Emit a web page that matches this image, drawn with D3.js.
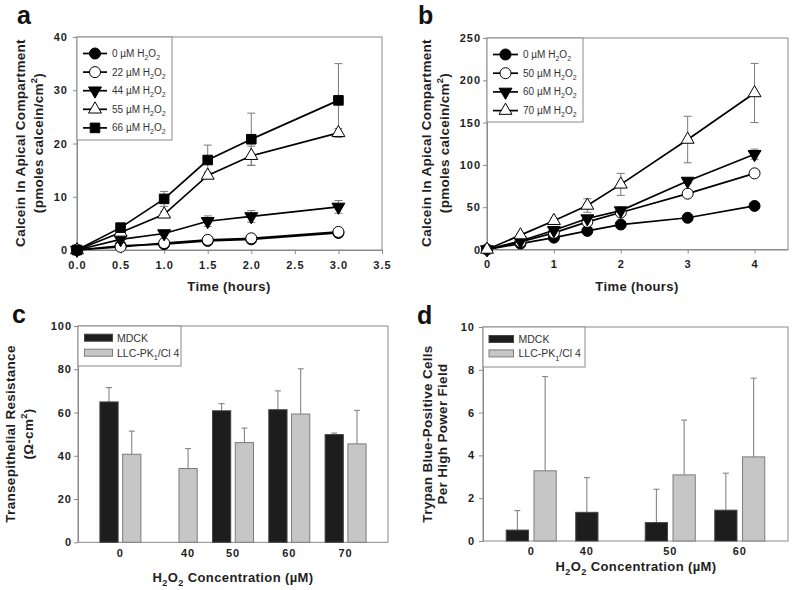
<!DOCTYPE html>
<html>
<head>
<meta charset="utf-8">
<script src="https://cdn.jsdelivr.net/npm/d3@7"></script>
<style>
  body { margin: 0; background: #fff; }
  text { font-family: "Liberation Sans", Arial, sans-serif; }
</style>
</head>
<body>
<svg id="fig" width="800" height="590"></svg>
<script>
// ---- panel a: calcein, MDCK-like time course
const aTimes = [0, 0.5, 1, 1.5, 2, 3];
const aConc = ["0", "22", "44", "55", "66"];
const aMeans = [
  [0, 0.8, 1.1, 1.7, 2.0, 3.2],
  [0, 0.6, 1.3, 1.9, 2.2, 3.4],
  [0, 2.0, 3.1, 5.4, 6.3, 8.1],
  [0, 3.3, 6.7, 14.0, 17.7, 22.0],
  [0, 4.2, 9.6, 16.9, 20.8, 28.1]
];
const aErrs = [
  [0, 0, 0, 0, 0, 0],
  [0, 0, 0, 0, 0, 0],
  [0, 0.3, 0.3, 1.0, 1.1, 1.2],
  [0, 0.4, 0.5, 0.6, 1.8, 0.8],
  [0, 0.4, 1.4, 2.8, 4.9, 6.9]
];
const aXTicks = [0, 0.5, 1, 1.5, 2, 2.5, 3, 3.5];
const aYTicks = [0, 10, 20, 30, 40];

// ---- panel b
const bTimes = [0, 0.5, 1, 1.5, 2, 3, 4];
const bConc = ["0", "50", "60", "70"];
const bMeans = [
  [0, 7, 14, 22, 29.5, 37.5, 51.5],
  [0, 9, 19.6, 32.7, 43.7, 66, 90],
  [0, 10, 22.8, 36.6, 46, 81, 112.6],
  [0, 17, 34, 52, 77, 130, 185]
];
const bErrs = [
  [0, 0.5, 1, 1, 1, 1.5, 2],
  [0, 0.5, 1, 1.5, 1.5, 2, 2.5],
  [0, 0.5, 1, 1.5, 2, 3, 6],
  [0, 2, 3, 8, 13, 27.5, 35]
];
const bXTicks = [0, 1, 2, 3, 4];
const bYTicks = [0, 50, 100, 150, 200, 250];

// ---- panel c: transepithelial resistance
const cConc = ["0", "40", "50", "60", "70"];
const cMDCK = [64.9, null, 60.8, 61.3, 49.8];
const cMDCKErr = [6.6, null, 3.3, 8.7, 0.7];
const cLLC = [40.7, 34.1, 46.1, 59.3, 45.5];
const cLLCErr = [10.7, 9.2, 6.7, 20.9, 15.5];
const cYTicks = [0, 20, 40, 60, 80, 100];

// ---- panel d: trypan blue positive cells
const dConc = ["0", "40", "50", "60"];
const dMDCK = [0.51, 1.34, 0.86, 1.44];
const dMDCKErr = [0.91, 1.62, 1.56, 1.73];
const dLLC = [3.28, null, 3.09, 3.93];
const dLLCErr = [4.40, null, 2.56, 3.68];
const dYTicks = [0, 2, 4, 6, 8, 10];

const svg = d3.select("#fig");
const frameColor = "#8a8a8a";
const errColor = "#7a7a7a";
const textColor = "#1e1e1e";

// text with sub/superscripts: parts are strings or [string, "sub"|"sup"]
function rich(text, parts, size) {
  let cur = 0;
  parts.forEach(function(p) {
    const s = typeof p === "string" ? p : p[0];
    const mode = typeof p === "string" ? "" : p[1];
    const off = mode === "sub" ? size * 0.3 : mode === "sup" ? -size * 0.45 : 0;
    text.append("tspan")
      .attr("dy", off - cur)
      .attr("font-size", mode ? size * 0.7 : size)
      .text(s);
    cur = off;
  });
  return text;
}

function panelLetter(letter, x, y) {
  svg.append("text").attr("x", x).attr("y", y)
    .attr("font-size", 25).attr("font-weight", "bold").attr("fill", "#111")
    .text(letter);
}

function yTitle(lines, x, y, size) {
  lines.forEach(function(parts, i) {
    const t = svg.append("text")
      .attr("transform", "translate(" + x[i] + "," + y + ") rotate(-90)")
      .attr("text-anchor", "middle")
      .attr("font-weight", "bold").attr("font-size", size)
      .attr("letter-spacing", 0.3)
      .attr("fill", textColor);
    rich(t, parts, size);
  });
}

function xTitle(parts, x, y) {
  const t = svg.append("text").attr("x", x).attr("y", y)
    .attr("text-anchor", "middle").attr("font-weight", "bold")
    .attr("font-size", 13).attr("letter-spacing", 0.4).attr("fill", textColor);
  rich(t, parts, 13);
}

function styleAxis(g) {
  g.selectAll(".domain").attr("stroke", frameColor);
  g.selectAll(".tick line").attr("stroke", frameColor);
  g.selectAll(".tick text")
    .attr("font-family", "Liberation Sans, Arial, sans-serif")
    .attr("font-size", 11).attr("font-weight", "bold")
    .attr("letter-spacing", 1).attr("fill", textColor);
}

const markers = {
  dot:    { type: d3.symbolCircle, size: 95, fill: "#000", rot: 0 },
  ring:   { type: d3.symbolCircle, size: 95, fill: "#fff", rot: 0 },
  down:   { type: d3.symbolTriangle, size: 72, fill: "#000", rot: 180 },
  up:     { type: d3.symbolTriangle, size: 72, fill: "#fff", rot: 0 },
  square: { type: d3.symbolSquare, size: 92, fill: "#000", rot: 0 }
};

function drawMarker(g, m, cx, cy) {
  g.append("path")
    .attr("d", d3.symbol().type(m.type).size(m.size)())
    .attr("transform", "translate(" + cx + "," + cy + ") rotate(" + m.rot + ")")
    .attr("fill", m.fill).attr("stroke", "#000").attr("stroke-width", 1);
}

function linePanel(o) {
  const g = svg.append("g");
  const x = d3.scaleLinear().domain(o.xDomain).range([o.left, o.right]);
  const y = d3.scaleLinear().domain(o.yDomain).range([o.bottom, o.top]);

  g.append("rect")
    .attr("x", o.left).attr("y", o.top)
    .attr("width", o.right - o.left).attr("height", o.bottom - o.top)
    .attr("fill", "none").attr("stroke", frameColor);

  const ax = g.append("g").attr("transform", "translate(0," + o.bottom + ")")
    .call(d3.axisBottom(x).tickValues(o.xTicks).tickFormat(d3.format(o.xFmt))
      .tickSize(4).tickSizeOuter(0).tickPadding(7));
  styleAxis(ax);
  const ay = g.append("g").attr("transform", "translate(" + o.left + ",0)")
    .call(d3.axisLeft(y).tickValues(o.yTicks).tickSize(4).tickSizeOuter(0).tickPadding(o.yPad));
  styleAxis(ay);

  // error bars behind the lines
  o.means.forEach(function(ser, i) {
    ser.forEach(function(v, j) {
      const e = o.errs[i][j];
      if (!e) return;
      const px = x(o.times[j]);
      g.append("line").attr("x1", px).attr("x2", px)
        .attr("y1", y(v - e)).attr("y2", y(v + e))
        .attr("stroke", errColor);
      [v - e, v + e].forEach(function(w) {
        g.append("line").attr("x1", px - 4).attr("x2", px + 4)
          .attr("y1", y(w)).attr("y2", y(w)).attr("stroke", errColor);
      });
    });
  });

  const line = d3.line().x(function(d) { return x(d[0]); }).y(function(d) { return y(d[1]); });
  o.means.forEach(function(ser, i) {
    const pts = ser.map(function(v, j) { return [o.times[j], v]; });
    g.append("path").attr("d", line(pts))
      .attr("fill", "none").attr("stroke", "#000").attr("stroke-width", 1.7);
    pts.forEach(function(p) { drawMarker(g, markers[o.styles[i]], x(p[0]), y(p[1])); });
  });

  // legend
  const L = o.legend;
  g.append("rect").attr("x", o.left).attr("y", o.top)
    .attr("width", L.w).attr("height", L.h)
    .attr("fill", "#fff").attr("stroke", frameColor);
  o.labels.forEach(function(lab, i) {
    const ly = L.y0 + i * L.step;
    g.append("line").attr("x1", L.x1).attr("x2", L.x2).attr("y1", ly).attr("y2", ly)
      .attr("stroke", "#000").attr("stroke-width", 1.7);
    drawMarker(g, markers[o.styles[i]], (L.x1 + L.x2) / 2, ly);
    const t = g.append("text").attr("x", L.tx).attr("y", ly + 3.5)
      .attr("font-size", 10).attr("fill", "#333");
    rich(t, [lab + " \u00b5M H", ["2", "sub"], "O", ["2", "sub"]], 10);
  });
}

function barPanel(o) {
  const g = svg.append("g");
  const x0 = d3.scaleBand().domain(o.cats).range([o.left, o.right])
    .paddingInner(0).paddingOuter(o.padOuter);
  const x1 = d3.scaleBand().domain([0, 1]).range([-o.half, o.half]).paddingInner(0.2);
  const y = d3.scaleLinear().domain(o.yDomain).range([o.bottom, o.top]);

  g.append("rect")
    .attr("x", o.left).attr("y", o.top)
    .attr("width", o.right - o.left).attr("height", o.bottom - o.top)
    .attr("fill", "none").attr("stroke", frameColor);

  const ay = g.append("g").attr("transform", "translate(" + o.left + ",0)")
    .call(d3.axisLeft(y).tickValues(o.yTicks).tickSize(4).tickSizeOuter(0).tickPadding(o.yPad));
  styleAxis(ay);

  const fills = ["#1d1d1d", "#c6c6c6"];
  const strokes = ["#444", "#7c7c7c"];
  const centers = o.cats.map(function() { return []; });

  o.series.forEach(function(vals, s) {
    vals.forEach(function(v, i) {
      if (v == null) return;
      const bx = x0(o.cats[i]) + x0.bandwidth() / 2 + x1(s);
      const bw = x1.bandwidth();
      const mid = bx + bw / 2;
      centers[i].push(mid);
      const e = o.errs[s][i];
      g.append("line").attr("x1", mid).attr("x2", mid)
        .attr("y1", y(v)).attr("y2", y(v + e)).attr("stroke", errColor);
      g.append("line").attr("x1", mid - 3).attr("x2", mid + 3)
        .attr("y1", y(v + e)).attr("y2", y(v + e)).attr("stroke", errColor);
      g.append("rect").attr("x", bx).attr("y", y(v))
        .attr("width", bw).attr("height", y(0) - y(v))
        .attr("fill", fills[s]).attr("stroke", strokes[s]).attr("stroke-width", 1);
    });
  });

  // category labels centred under the bars that are present
  o.cats.forEach(function(c, i) {
    g.append("text").attr("x", d3.mean(centers[i])).attr("y", o.labelY)
      .attr("text-anchor", "middle").attr("font-size", 11).attr("font-weight", "bold")
      .attr("letter-spacing", 1).attr("fill", textColor).text(c);
  });

  const L = o.legend;
  g.append("rect").attr("x", o.left).attr("y", o.top)
    .attr("width", L.w).attr("height", L.h)
    .attr("fill", "#fff").attr("stroke", frameColor);
  ["MDCK", "LLC"].forEach(function(name, s) {
    const ly = L.y0 + s * L.step;
    g.append("rect").attr("x", L.rx).attr("y", ly - 3.5)
      .attr("width", L.rw).attr("height", 7)
      .attr("fill", fills[s]).attr("stroke", strokes[s]);
    const t = g.append("text").attr("x", L.tx).attr("y", ly + 4)
      .attr("font-size", 10.5).attr("fill", "#333");
    if (s === 0) rich(t, ["MDCK"], 10.5);
    else rich(t, ["LLC-PK", ["1", "sub"], "/Cl 4"], 10.5);
  });
}

// ---------- build the figure ----------
panelLetter("a", 17, 24);
linePanel({
  left: 77, right: 382, top: 37, bottom: 250,
  xDomain: [0, 3.5], yDomain: [0, 40],
  xTicks: aXTicks, yTicks: aYTicks, xFmt: ".1f", yPad: 5,
  times: aTimes, means: aMeans, errs: aErrs,
  styles: ["dot", "ring", "down", "up", "square"], labels: aConc,
  legend: { w: 95, h: 103, y0: 53.5, step: 18.6, x1: 83, x2: 107, tx: 112 }
});
yTitle([["Calcein In Apical Compartment"],
        ["(pmoles calcein/cm", ["2", "sup"], ")"]], [25, 43], 143, 13.5);
xTitle(["Time (hours)"], 229, 291);

panelLetter("b", 418, 24);
linePanel({
  left: 487, right: 788, top: 38, bottom: 249.5,
  xDomain: [0, 4.5], yDomain: [0, 250],
  xTicks: bXTicks, yTicks: bYTicks, xFmt: "d", yPad: 2,
  times: bTimes, means: bMeans, errs: bErrs,
  styles: ["dot", "ring", "down", "up"], labels: bConc,
  legend: { w: 96, h: 84, y0: 54.5, step: 18.7, x1: 493, x2: 518, tx: 523 }
});
yTitle([["Calcein In Apical Compartment"],
        ["(pmoles calcein/cm", ["2", "sup"], ")"]], [431, 449], 143, 13.5);
xTitle(["Time (hours)"], 637, 291);

panelLetter("c", 12, 323);
barPanel({
  left: 78, right: 388, top: 326, bottom: 542.3,
  cats: cConc, padOuter: 0.253, half: 20.5,
  yDomain: [0, 100], yTicks: cYTicks, yPad: 2,
  series: [cMDCK, cLLC], errs: [cMDCKErr, cLLCErr], labelY: 557,
  legend: { w: 103, h: 40, y0: 337.7, step: 15, rx: 84.5, rw: 28, tx: 117 }
});
yTitle([["Transepithelial Resistance"],
        ["(\u03a9-cm", ["2", "sup"], ")"]], [15, 33], 434, 13.5);
xTitle(["H", ["2", "sub"], "O", ["2", "sub"], " Concentration (\u00b5M)"], 233, 582);

panelLetter("d", 417, 324);
barPanel({
  left: 483, right: 788, top: 327, bottom: 541,
  cats: dConc, padOuter: 0.194, half: 25,
  yDomain: [0, 10], yTicks: dYTicks, yPad: 4,
  series: [dMDCK, dLLC], errs: [dMDCKErr, dLLCErr], labelY: 555,
  legend: { w: 102, h: 40, y0: 339, step: 14.4, rx: 489, rw: 24.5, tx: 518.5 }
});
yTitle([["Trypan Blue-Positive Cells"],
        ["Per High Power Field"]], [432, 447], 434, 13.5);
xTitle(["H", ["2", "sub"], "O", ["2", "sub"], " Concentration (\u00b5M)"], 636, 571);
</script>
</body>
</html>
